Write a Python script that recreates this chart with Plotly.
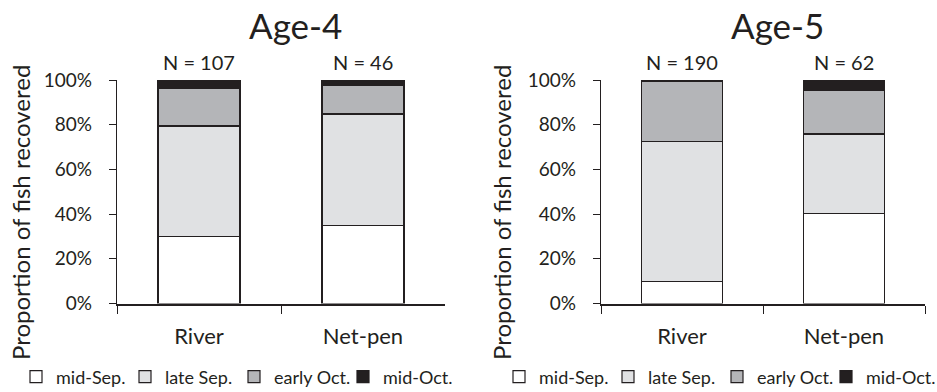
import plotly.graph_objects as go

categories = ["River", "Net-pen"]
periods = ["mid-Sep.", "late Sep.", "early Oct.", "mid-Oct."]
# proportions (%) per period, per category
age4 = {
    "mid-Sep.": [29.9, 34.8],
    "late Sep.": [49.5, 50.0],
    "early Oct.": [16.8, 13.0],
    "mid-Oct.": [3.7, 2.2],
}
age5 = {
    "mid-Sep.": [10.0, 40.3],
    "late Sep.": [62.6, 35.5],
    "early Oct.": [26.8, 19.4],
    "mid-Oct.": [0.5, 4.8],
}
n4 = [107, 46]
n5 = [190, 62]
titles = ["Age-4", "Age-5"]
ytitle = "Proportion of fish recovered"
ytickvals = [0, 20, 40, 60, 80, 100]
yticktext = ["0%", "20%", "40%", "60%", "80%", "100%"]
colors = ["#ffffff", "#e0e1e3", "#b4b5b8", "#231f20"]
ink = "#231f20"
FONT = "Lato"

fig = go.Figure()
for i, (data, leg) in enumerate([(age4, "legend"), (age5, "legend2")]):
    xa = "x" if i == 0 else "x2"
    ya = "y" if i == 0 else "y2"
    for p, c in zip(periods, colors):
        fig.add_trace(go.Bar(
            x=categories, y=data[p], name=p, xaxis=xa, yaxis=ya,
            marker=dict(color=c, line=dict(color=ink, width=1.2)),
            legend=leg, showlegend=True,
        ))

axis_common_x = dict(type="category", tickson="boundaries", ticks="outside", ticklen=8,
                     tickwidth=1.2, tickcolor=ink, showline=True, linecolor=ink, linewidth=2,
                     ticklabelstandoff=12,
                     tickfont=dict(size=22, color=ink, family=FONT), showgrid=False, zeroline=False)
axis_common_y = dict(range=[0, 100], tickvals=ytickvals, ticktext=yticktext,
                     ticks="outside", ticklen=7, tickwidth=1.2, tickcolor=ink, showline=True,
                     linecolor=ink, linewidth=1.2, showgrid=False, zeroline=False,
                     ticklabelstandoff=13,
                     tickfont=dict(size=19, color=ink, family=FONT))

legend_common = dict(orientation="h", y=1-377/392, yanchor="middle",
                     font=dict(size=18, color=ink, family=FONT), traceorder="normal",
                     itemwidth=30, tracegroupgap=0, entrywidthmode="pixels", entrywidth=64,
                     bgcolor="rgba(0,0,0,0)")

fig.update_layout(
    width=937, height=392, margin=dict(l=0, r=0, t=0, b=0, autoexpand=False),
    plot_bgcolor="white", paper_bgcolor="white", barmode="stack", bargap=0.5,
    font=dict(family=FONT, color=ink),
    xaxis=dict(domain=[117/937, 445/937], anchor="y", **axis_common_x),
    yaxis=dict(domain=[1-303.5/392, 1-80/392], anchor="x", **axis_common_y),
    xaxis2=dict(domain=[601/937, 925/937], anchor="y2", **axis_common_x),
    yaxis2=dict(domain=[1-303.5/392, 1-80/392], anchor="x2", **axis_common_y),
    legend=dict(x=16/937, xanchor="left", **legend_common),
    legend2=dict(x=499/937, xanchor="left", **legend_common),
)

for t, tx in zip(titles, [295, 777]):
    fig.add_annotation(text=t, x=tx/937, y=1-25/392, xref="paper", yref="paper",
                       xanchor="center", yanchor="middle",
                       showarrow=False, font=dict(size=35, color=ink, family=FONT))
for yx in [20, 501]:
    fig.add_annotation(text=ytitle, x=yx/937, y=1-213/392, xref="paper", yref="paper",
                       xanchor="center", yanchor="middle",
                       textangle=-90, showarrow=False,
                       font=dict(size=24, color=ink, family=FONT))
for i, ns in enumerate([n4, n5]):
    xa = "x" if i == 0 else "x2"
    ya = "y" if i == 0 else "y2"
    for c, n in zip(categories, ns):
        fig.add_annotation(text=f"N = {n}", x=c, y=100, xref=xa, yref=ya,
                           xanchor="center", yanchor="bottom",
                           yshift=4, showarrow=False, font=dict(size=20, color=ink, family=FONT))

fig.write_html("out.html", config={"displayModeBar": False},
               post_script="document.body.style.margin='0';")
